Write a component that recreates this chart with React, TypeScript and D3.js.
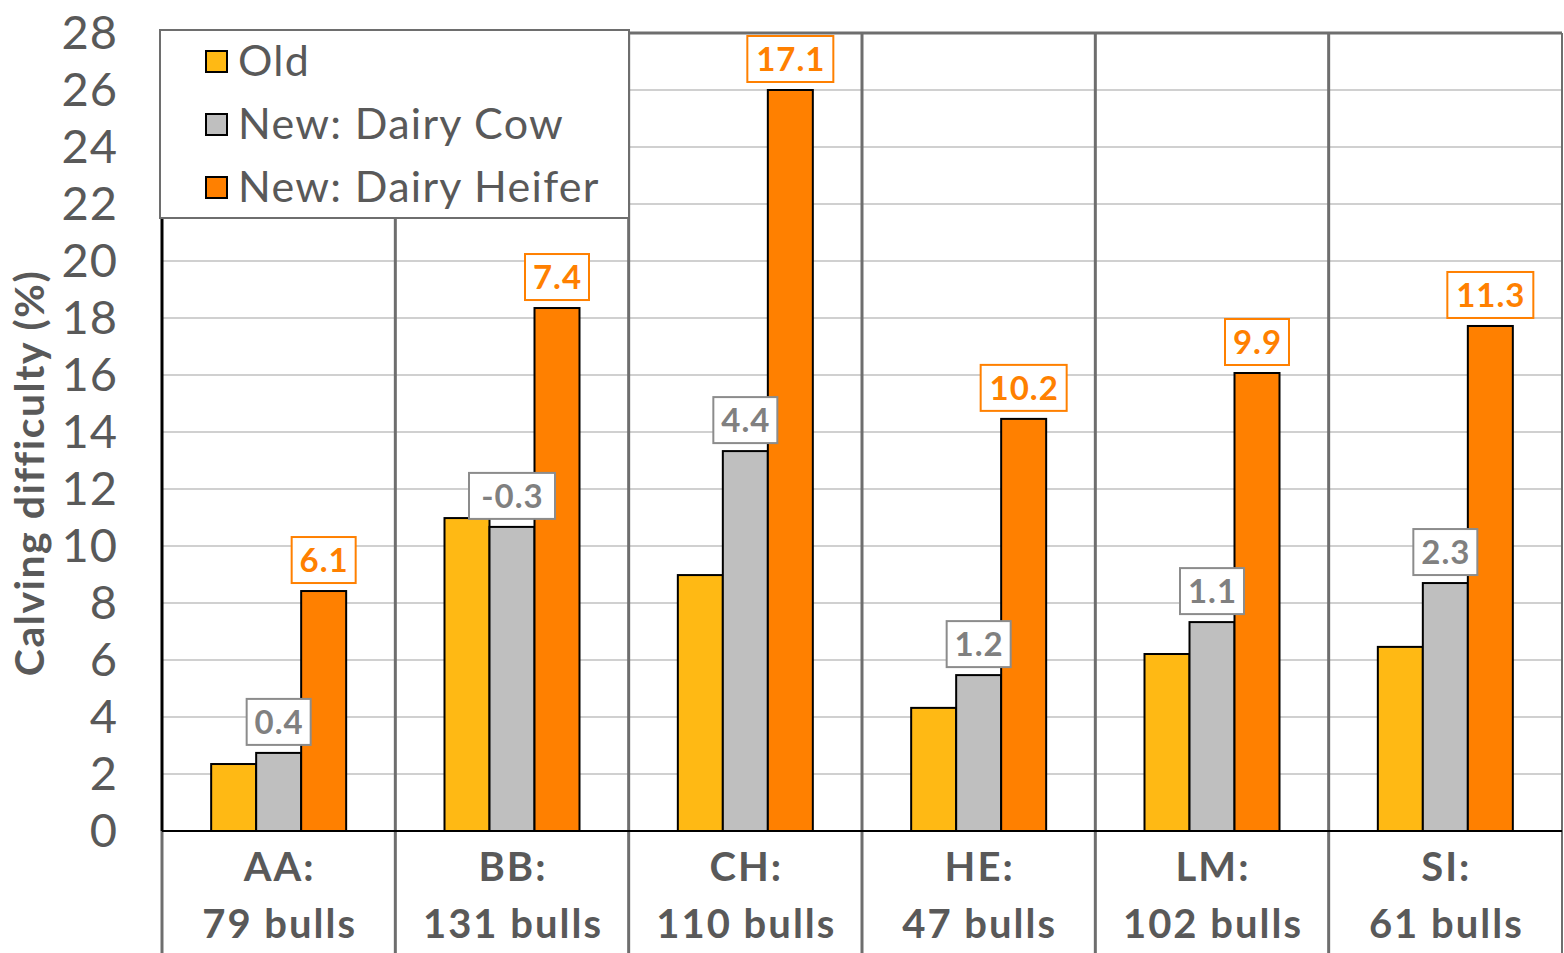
import React from "react";
import * as d3 from "d3";

const categories = ["AA:", "BB:", "CH:", "HE:", "LM:", "SI:"];
const bullCounts = ["79 bulls", "131 bulls", "110 bulls", "47 bulls", "102 bulls", "61 bulls"];
const seriesNames = ["Old", "New: Dairy Cow", "New: Dairy Heifer"];
const oldValues = [2.35, 10.98, 8.98, 4.32, 6.21, 6.46];
const cowValues = [2.74, 10.67, 13.33, 5.47, 7.33, 8.7];
const heiferValues = [8.42, 18.35, 26.0, 14.46, 16.07, 17.72];
const cowLabels = ["0.4", "-0.3", "4.4", "1.2", "1.1", "2.3"];
const heiferLabels = ["6.1", "7.4", "17.1", "10.2", "9.9", "11.3"];
const yTicks = [0, 2, 4, 6, 8, 10, 12, 14, 16, 18, 20, 22, 24, 26, 28];

const colors = ["#FFB914", "#BFBFBF", "#FF8000"];
const textGray = "#595959";

export default function App() {
  const W = 1564, H = 953;
  const left = 162, right = 1562, top = 33, bottom = 831;
  const x = d3.scaleBand<string>().domain(categories).range([left, right]).padding(0);
  const y = d3.scaleLinear().domain([0, 28]).range([bottom, top]);
  const inner = d3.scaleBand<number>().domain([0, 1, 2]).range([0, 135]).padding(0);
  const groupOffset = (x.bandwidth() - 135) / 2;
  const series = [oldValues, cowValues, heiferValues];
  const font = "Lato, 'Open Sans', sans-serif";

  return (
    <svg width={W} height={H} style={{ position: "absolute", left: 0, top: 0, background: "#fff" }} fontFamily={font}>
      {yTicks.slice(1).map((t) => (
        <line key={"g" + t} x1={left} x2={right} y1={y(t)} y2={y(t)} stroke="#D0D0D0" strokeWidth={2} />
      ))}
      <line x1={left} x2={right} y1={top} y2={top} stroke="#6E6E6E" strokeWidth={3} />
      <line x1={right} x2={right} y1={top} y2={H} stroke="#6E6E6E" strokeWidth={2} />
      {categories.map((c, i) => (
        <line key={"s" + c} x1={x(c)!} x2={x(c)!} y1={i === 0 ? bottom : top} y2={H} stroke="#6E6E6E" strokeWidth={3} />
      ))}
      <line x1={left} x2={left} y1={top} y2={bottom} stroke="#000" strokeWidth={3} />
      {categories.map((c, i) =>
        series.map((s, j) => {
          const bx = x(c)! + groupOffset + inner(j)!;
          return (
            <rect key={c + j} x={bx} y={y(s[i])} width={inner.bandwidth()} height={bottom - y(s[i])}
              fill={colors[j]} stroke="#000" strokeWidth={2} />
          );
        })
      )}
      <line x1={left} x2={right} y1={bottom} y2={bottom} stroke="#000" strokeWidth={2} />
      {categories.map((c, i) => {
        const items = [
          { j: 1, v: cowValues[i], t: cowLabels[i], col: "#8C8C8C", tc: "#808080" },
          { j: 2, v: heiferValues[i], t: heiferLabels[i], col: "#FF8000", tc: "#FF8000" },
        ];
        return items.map((it) => {
          const cx = x(c)! + groupOffset + inner(it.j)! + inner.bandwidth() / 2;
          const bw = it.t.length >= 4 ? 86 : 64;
          const bh = 46;
          const by = y(it.v) - 8 - bh;
          return (
            <g key={c + "l" + it.j}>
              <rect x={cx - bw / 2} y={by} width={bw} height={bh} fill="#fff" stroke={it.col} strokeWidth={2} />
              <text x={cx + 0.5} y={by + bh / 2 + 12} textAnchor="middle" fontSize={33} fontWeight="bold" fill={it.tc} letterSpacing={1}>{it.t}</text>
            </g>
          );
        });
      })}
      {yTicks.map((t) => (
        <text key={"t" + t} x={118} y={y(t) + 16} textAnchor="end" fontSize={47} fill={textGray} letterSpacing={1}>{t}</text>
      ))}
      <text transform={`translate(44,473) rotate(-90)`} textAnchor="middle" fontSize={41} fontWeight="bold" fill={textGray} letterSpacing={1.5}>Calving difficulty (%)</text>
      {categories.map((c, i) => (
        <g key={"xl" + c}>
          <text x={x(c)! + x.bandwidth() / 2 + 1} y={881} textAnchor="middle" fontSize={40} fontWeight="bold" fill={textGray} letterSpacing={2}>{c}</text>
          <text x={x(c)! + x.bandwidth() / 2 + 1} y={938} textAnchor="middle" fontSize={40} fontWeight="bold" fill={textGray} letterSpacing={2}>{bullCounts[i]}</text>
        </g>
      ))}
      <rect x={160} y={30} width={469} height={188} fill="#fff" stroke="#6E6E6E" strokeWidth={2} />
      {seriesNames.map((n, k) => (
        <g key={"lg" + n}>
          <rect x={206} y={51 + k * 63} width={21} height={21} fill={colors[k]} stroke="#000" strokeWidth={2} />
          <text x={238} y={76 + k * 63} fontSize={43} fill={textGray} letterSpacing={1.3}>{n}</text>
        </g>
      ))}
    </svg>
  );
}
